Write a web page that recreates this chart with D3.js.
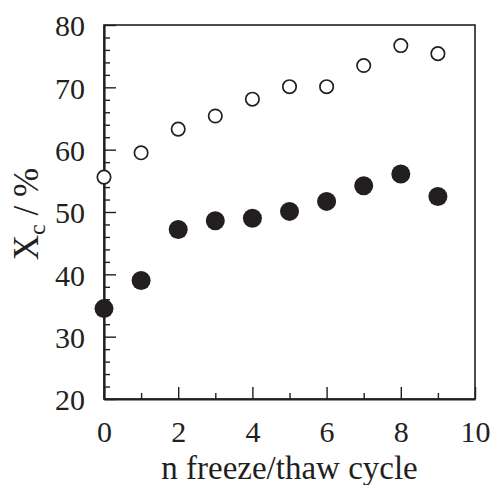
<!DOCTYPE html>
<html>
<head>
<meta charset="utf-8">
<script src="https://cdn.jsdelivr.net/npm/d3@7"></script>
<style>
  body { margin: 0; background: #fff; }
  svg text { font-family: "Liberation Serif", "Times New Roman", serif; fill: #231f20; }
</style>
</head>
<body>
<div id="chart"></div>
<script>
// data
var cycles = [0, 1, 2, 3, 4, 5, 6, 7, 8, 9];
var openValues = [55.6, 59.5, 63.3, 65.4, 68.1, 70.1, 70.1, 73.5, 76.7, 75.4];
var filledValues = [34.5, 39.0, 47.2, 48.6, 49.0, 50.1, 51.7, 54.2, 56.1, 52.5];
var xTicks = [0, 2, 4, 6, 8, 10];
var yTicks = [20, 30, 40, 50, 60, 70, 80];

var svgWidth = 493;
var svgHeight = 485;
var margin = { top: 25, right: 18, bottom: 86, left: 104 };
var chartWidth = svgWidth - margin.left - margin.right;
var chartHeight = svgHeight - margin.top - margin.bottom;
var ink = "#231f20";

var svg = d3.select("#chart")
  .append("svg")
  .attr("width", svgWidth)
  .attr("height", svgHeight);

var chartGroup = svg.append("g")
  .attr("transform", `translate(${margin.left}, ${margin.top})`);

var xScale = d3.scaleLinear().domain([0, 10]).range([0, chartWidth]);
var yScale = d3.scaleLinear().domain([20, 80]).range([chartHeight, 0]);

// frame
chartGroup.append("rect")
  .attr("width", chartWidth)
  .attr("height", chartHeight)
  .attr("fill", "none")
  .attr("stroke", ink)
  .attr("stroke-width", 1.6);

// minor ticks (inward)
chartGroup.append("g")
  .attr("transform", `translate(0, ${chartHeight})`)
  .call(d3.axisBottom(xScale).tickValues([1, 3, 5, 7, 9]).tickSize(-6).tickFormat(""))
  .call(g => g.select(".domain").remove());
chartGroup.append("g")
  .call(d3.axisLeft(yScale).tickValues(d3.range(22, 80, 2).filter(v => v % 10 !== 0)).tickSize(-6).tickFormat(""))
  .call(g => g.select(".domain").remove());

// major ticks with labels
var xAxis = chartGroup.append("g")
  .attr("transform", `translate(0, ${chartHeight})`)
  .call(d3.axisBottom(xScale).tickValues(xTicks).tickSizeInner(-12).tickSizeOuter(0).tickPadding(22));
var yAxis = chartGroup.append("g")
  .call(d3.axisLeft(yScale).tickValues(yTicks).tickSizeInner(-12).tickSizeOuter(0).tickPadding(19));

chartGroup.selectAll(".tick line").attr("stroke", ink).attr("stroke-width", 1.4);
chartGroup.selectAll(".domain").attr("stroke", ink).attr("stroke-width", 2.2);
chartGroup.selectAll(".tick text")
  .attr("font-family", "Liberation Serif, serif")
  .attr("font-size", 30)
  .attr("fill", ink);
yAxis.selectAll(".tick text").attr("dy", "0.36em");

// open circles
chartGroup.selectAll("circle.open")
  .data(cycles)
  .enter()
  .append("circle")
  .classed("open", true)
  .attr("cx", (d, i) => xScale(d))
  .attr("cy", (d, i) => yScale(openValues[i]))
  .attr("r", 6.7)
  .attr("fill", "#fff")
  .attr("stroke", ink)
  .attr("stroke-width", 1.7);

// filled circles
chartGroup.selectAll("circle.filled")
  .data(cycles)
  .enter()
  .append("circle")
  .classed("filled", true)
  .attr("cx", (d, i) => xScale(d))
  .attr("cy", (d, i) => yScale(filledValues[i]))
  .attr("r", 9.5)
  .attr("fill", ink);

// axis titles
svg.append("text")
  .attr("x", margin.left + chartWidth / 2)
  .attr("y", 479)
  .attr("text-anchor", "middle")
  .attr("font-size", 33)
  .text("n freeze/thaw cycle");

var yTitle = svg.append("text")
  .attr("transform", `translate(38, 214) rotate(-90)`)
  .attr("text-anchor", "middle")
  .attr("font-size", 35);
yTitle.append("tspan").text("X");
yTitle.append("tspan").attr("font-size", 24).attr("dy", 7).text("c");
yTitle.append("tspan").attr("dy", -7).text(" / %");
</script>
</body>
</html>
